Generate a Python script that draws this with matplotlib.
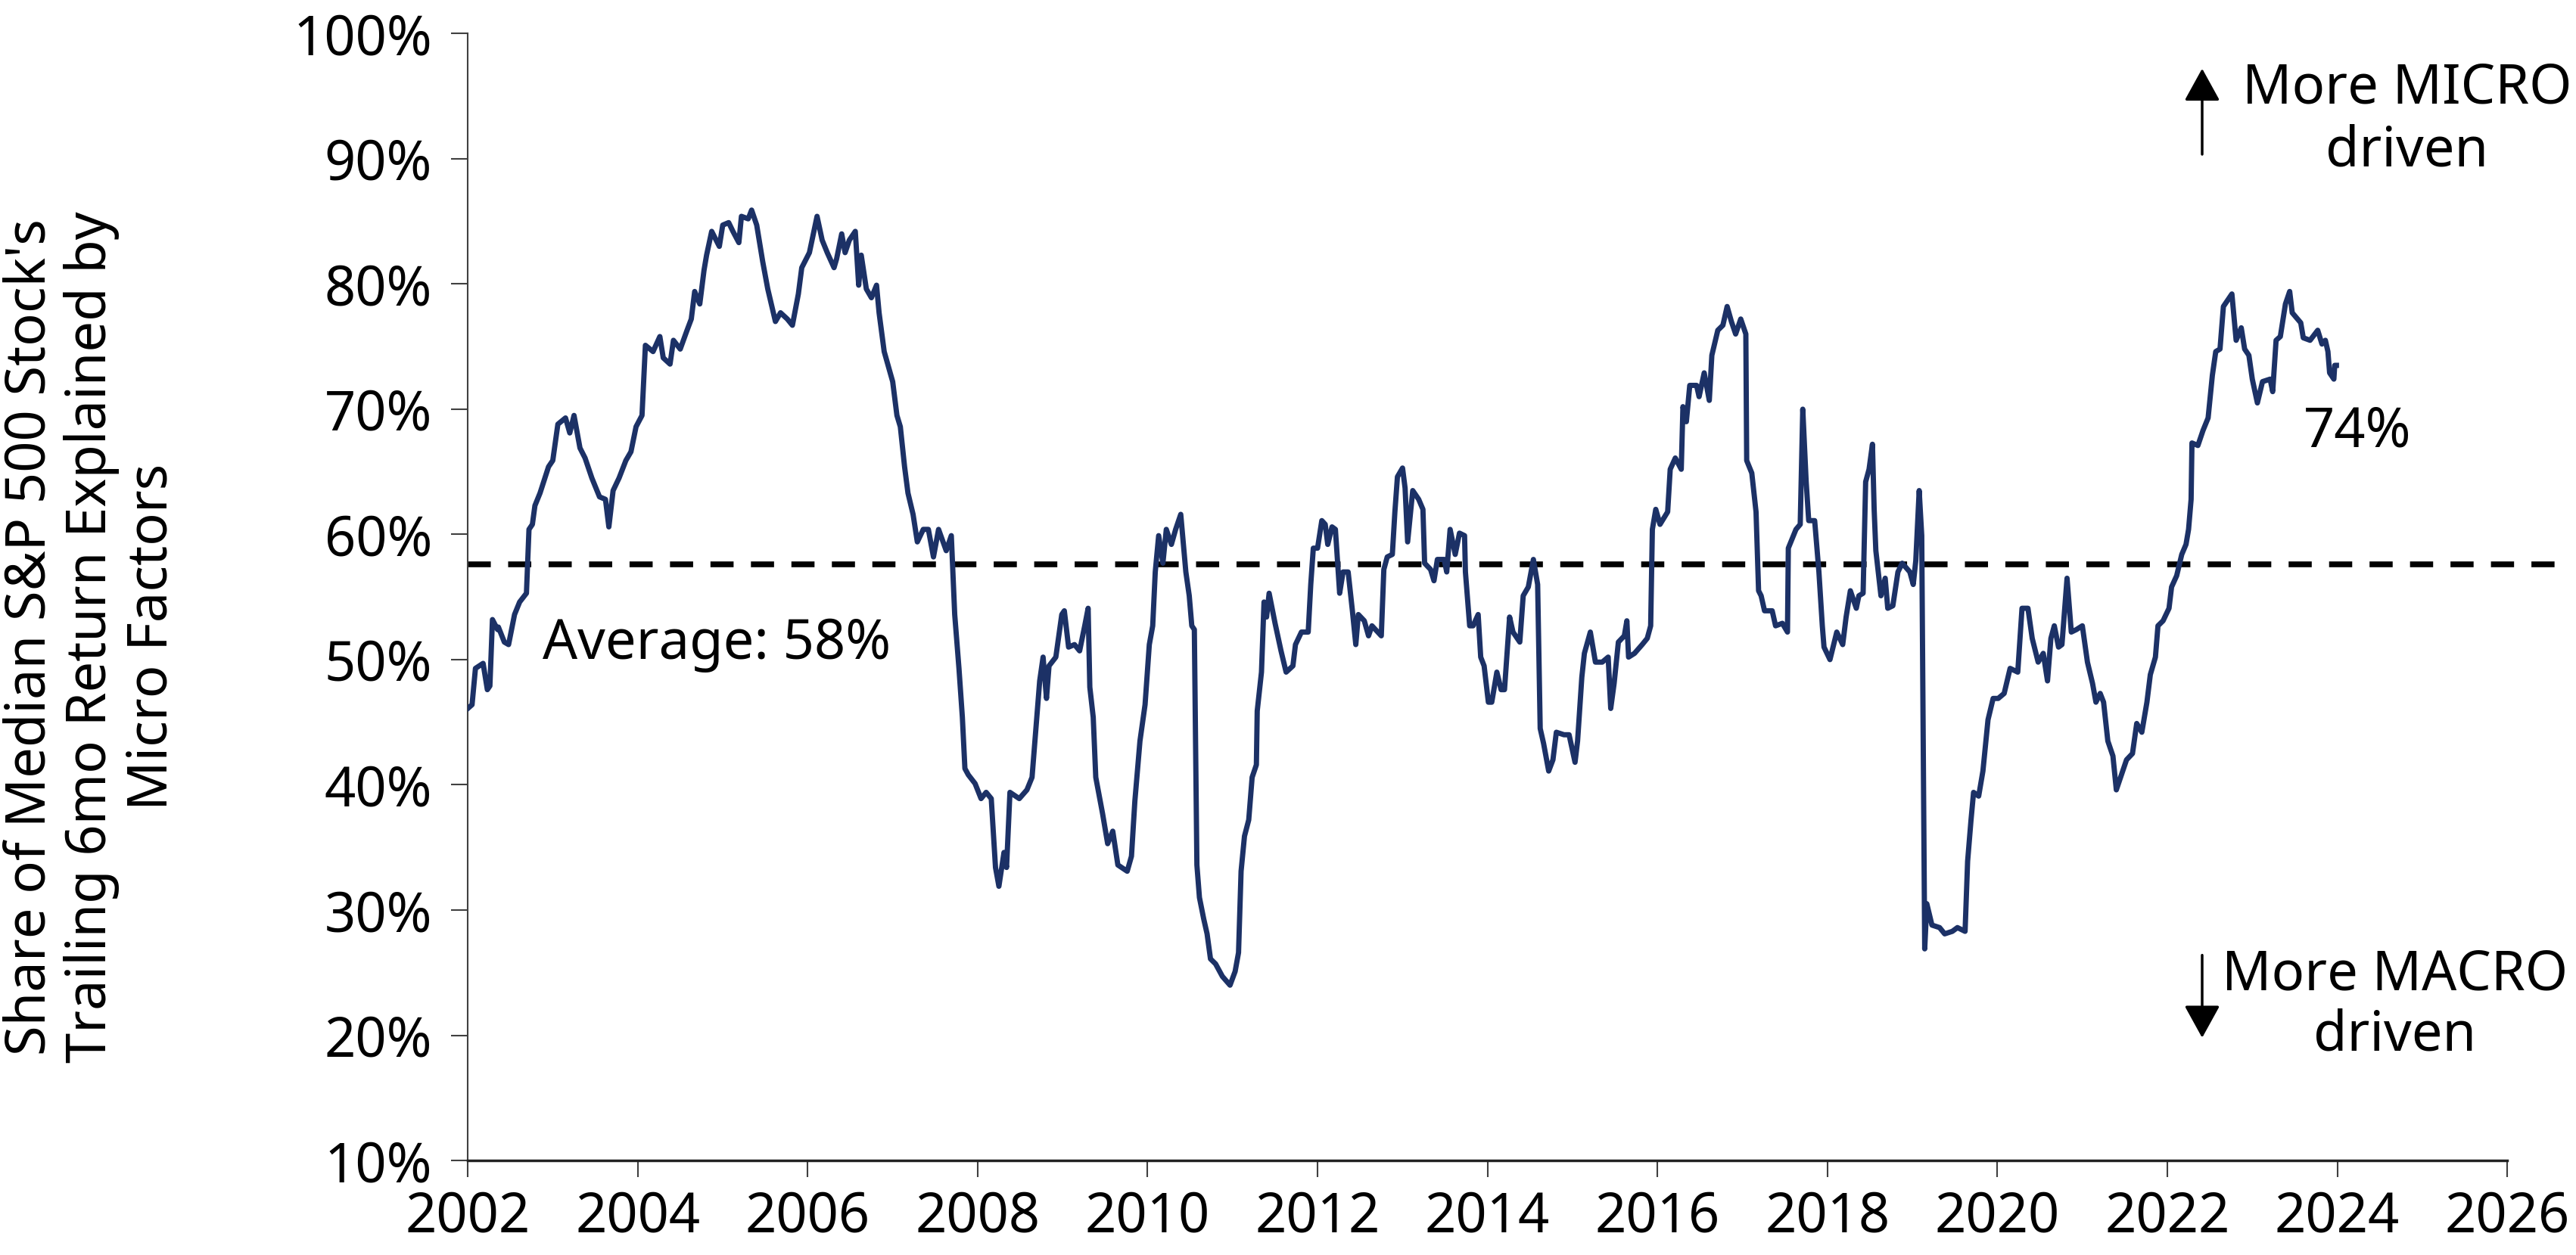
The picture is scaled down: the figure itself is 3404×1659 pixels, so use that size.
import numpy as np
import matplotlib
matplotlib.use("Agg")
import matplotlib.pyplot as plt
from matplotlib.ticker import FuncFormatter, MultipleLocator

# share of median S&P 500 stock's trailing 6mo return explained by micro factors (%)
years = [
    2002.00, 2002.05, 2002.09, 2002.18, 2002.23, 2002.26, 2002.29, 2002.35, 2002.36, 2002.43,
    2002.48, 2002.55, 2002.61, 2002.69, 2002.72, 2002.76, 2002.79, 2002.85, 2002.95, 2003.00,
    2003.06, 2003.15, 2003.20, 2003.25, 2003.32, 2003.38, 2003.46, 2003.55, 2003.62, 2003.66,
    2003.71, 2003.78, 2003.86, 2003.92, 2003.98, 2004.05, 2004.09, 2004.18, 2004.26, 2004.30,
    2004.38, 2004.42, 2004.50, 2004.58, 2004.63, 2004.67, 2004.73, 2004.78, 2004.81, 2004.87,
    2004.96, 2005.00, 2005.07, 2005.12, 2005.19, 2005.22, 2005.30, 2005.34, 2005.40, 2005.47,
    2005.53, 2005.62, 2005.68, 2005.76, 2005.82, 2005.89, 2005.93, 2006.02, 2006.11, 2006.17,
    2006.23, 2006.31, 2006.34, 2006.40, 2006.44, 2006.49, 2006.56, 2006.60, 2006.63, 2006.69,
    2006.75, 2006.81, 2006.84, 2006.90, 2006.95, 2007.00, 2007.05, 2007.09, 2007.14, 2007.18,
    2007.24, 2007.29, 2007.36, 2007.42, 2007.48, 2007.54, 2007.63, 2007.69, 2007.73, 2007.78,
    2007.82, 2007.85, 2007.89, 2007.97, 2008.04, 2008.10, 2008.16, 2008.21, 2008.25, 2008.31,
    2008.34, 2008.38, 2008.49, 2008.58, 2008.64, 2008.68, 2008.73, 2008.77, 2008.81, 2008.84,
    2008.92, 2008.99, 2009.02, 2009.07, 2009.14, 2009.20, 2009.26, 2009.30, 2009.32, 2009.36,
    2009.39, 2009.47, 2009.53, 2009.59, 2009.65, 2009.76, 2009.81, 2009.85, 2009.91, 2009.97,
    2010.02, 2010.06, 2010.09, 2010.13, 2010.18, 2010.22, 2010.28, 2010.33, 2010.39, 2010.45,
    2010.49, 2010.52, 2010.55, 2010.58, 2010.61, 2010.66, 2010.70, 2010.74, 2010.80, 2010.88,
    2010.97, 2011.03, 2011.07, 2011.10, 2011.14, 2011.19, 2011.23, 2011.28, 2011.29, 2011.34,
    2011.37, 2011.40, 2011.43, 2011.50, 2011.57, 2011.63, 2011.71, 2011.74, 2011.81, 2011.89,
    2011.92, 2011.95, 2012.00, 2012.05, 2012.09, 2012.12, 2012.17, 2012.21, 2012.26, 2012.30,
    2012.36, 2012.41, 2012.45, 2012.48, 2012.55, 2012.60, 2012.64, 2012.75, 2012.78, 2012.82,
    2012.88, 2012.91, 2012.94, 2013.00, 2013.03, 2013.06, 2013.12, 2013.19, 2013.24, 2013.26,
    2013.33, 2013.37, 2013.41, 2013.49, 2013.52, 2013.56, 2013.62, 2013.67, 2013.73, 2013.74,
    2013.79, 2013.83, 2013.89, 2013.92, 2013.96, 2014.01, 2014.05, 2014.11, 2014.16, 2014.20,
    2014.26, 2014.30, 2014.38, 2014.42, 2014.48, 2014.54, 2014.59, 2014.62, 2014.66, 2014.72,
    2014.77, 2014.81, 2014.90, 2014.96, 2015.03, 2015.06, 2015.11, 2015.14, 2015.21, 2015.27,
    2015.35, 2015.42, 2015.45, 2015.49, 2015.54, 2015.61, 2015.64, 2015.66, 2015.73, 2015.82,
    2015.88, 2015.92, 2015.94, 2015.98, 2016.03, 2016.12, 2016.15, 2016.21, 2016.28, 2016.30,
    2016.34, 2016.38, 2016.46, 2016.49, 2016.55, 2016.61, 2016.64, 2016.71, 2016.77, 2016.82,
    2016.87, 2016.92, 2016.98, 2017.04, 2017.05, 2017.11, 2017.16, 2017.19, 2017.22, 2017.26,
    2017.35, 2017.39, 2017.47, 2017.53, 2017.54, 2017.60, 2017.63, 2017.68, 2017.71, 2017.75,
    2017.78, 2017.85, 2017.90, 2017.94, 2017.96, 2018.03, 2018.11, 2018.18, 2018.22, 2018.27,
    2018.34, 2018.37, 2018.42, 2018.45, 2018.49, 2018.53, 2018.55, 2018.57, 2018.63, 2018.68,
    2018.71, 2018.77, 2018.83, 2018.88, 2018.97, 2019.01, 2019.04, 2019.08, 2019.11, 2019.145,
    2019.17, 2019.23, 2019.32, 2019.38, 2019.47, 2019.53, 2019.62, 2019.65, 2019.69, 2019.72,
    2019.78, 2019.83, 2019.89, 2019.95, 2020.01, 2020.08, 2020.15, 2020.24, 2020.29, 2020.36,
    2020.41, 2020.48, 2020.54, 2020.59, 2020.63, 2020.67, 2020.72, 2020.76, 2020.82, 2020.87,
    2020.93, 2021.00, 2021.06, 2021.12, 2021.16, 2021.21, 2021.25, 2021.30, 2021.36, 2021.40,
    2021.46, 2021.52, 2021.59, 2021.64, 2021.70, 2021.76, 2021.80, 2021.86, 2021.89, 2021.95,
    2022.02, 2022.05, 2022.11, 2022.17, 2022.22, 2022.25, 2022.28, 2022.29, 2022.36, 2022.42,
    2022.48, 2022.53, 2022.57, 2022.62, 2022.66, 2022.71, 2022.76, 2022.81, 2022.87, 2022.91,
    2022.96, 2023.00, 2023.06, 2023.12, 2023.21, 2023.24, 2023.28, 2023.33, 2023.39, 2023.44,
    2023.47, 2023.57, 2023.60, 2023.68, 2023.77, 2023.82, 2023.86, 2023.89, 2023.91, 2023.96,
    2023.97, 2023.99,
]
micro_share = [
    46.1, 46.4, 49.3, 49.7, 47.6, 47.9, 53.2, 52.4, 52.6, 51.4,
    51.2, 53.6, 54.6, 55.3, 60.4, 60.8, 62.3, 63.3, 65.4, 65.9,
    68.8, 69.3, 68.1, 69.5, 66.9, 66.1, 64.5, 63.0, 62.8, 60.6,
    63.5, 64.5, 65.9, 66.6, 68.6, 69.5, 75.1, 74.6, 75.8, 74.1,
    73.6, 75.5, 74.8, 76.3, 77.2, 79.4, 78.4, 81.1, 82.3, 84.2,
    83.0, 84.7, 84.9, 84.2, 83.3, 85.4, 85.2, 85.9, 84.7, 81.8,
    79.6, 77.0, 77.7, 77.2, 76.7, 79.2, 81.3, 82.5, 85.4, 83.5,
    82.5, 81.3, 82.0, 84.0, 82.5, 83.5, 84.2, 79.9, 82.3, 79.6,
    78.9, 79.9, 77.7, 74.6, 73.4, 72.2, 69.5, 68.6, 65.4, 63.3,
    61.6, 59.4, 60.4, 60.4, 58.2, 60.4, 58.7, 59.9, 53.6, 49.3,
    45.4, 41.3, 40.8, 40.1, 38.9, 39.4, 38.9, 33.4, 31.9, 34.6,
    33.4, 39.4, 38.9, 39.6, 40.6, 44.0, 48.3, 50.2, 46.9, 49.5,
    50.2, 53.6, 53.9, 51.0, 51.2, 50.7, 52.7, 54.1, 47.8, 45.4,
    40.6, 37.7, 35.3, 36.3, 33.6, 33.1, 34.3, 38.7, 43.5, 46.4,
    51.2, 52.7, 57.0, 59.9, 57.7, 60.4, 59.2, 60.4, 61.6, 57.0,
    55.1, 52.7, 52.4, 33.6, 31.0, 29.3, 28.1, 26.1, 25.7, 24.7,
    24.0, 25.1, 26.6, 33.1, 35.9, 37.2, 40.6, 41.6, 45.9, 49.0,
    54.6, 53.4, 55.3, 52.9, 50.7, 49.0, 49.5, 51.2, 52.2, 52.2,
    56.0, 58.9, 58.9, 61.1, 60.8, 59.2, 60.6, 60.4, 55.3, 57.0,
    57.0, 53.9, 51.2, 53.6, 53.1, 51.9, 52.7, 51.9, 57.2, 58.2,
    58.4, 61.8, 64.6, 65.3, 63.7, 59.4, 63.5, 62.8, 62.0, 57.7,
    57.2, 56.3, 58.0, 58.0, 57.0, 60.4, 58.4, 60.1, 59.9, 57.0,
    52.7, 52.7, 53.6, 50.2, 49.5, 46.6, 46.6, 49.0, 47.6, 47.6,
    53.4, 52.2, 51.4, 55.1, 55.8, 58.0, 56.0, 44.5, 43.3, 41.1,
    42.0, 44.2, 44.0, 44.0, 41.8, 43.5, 48.6, 50.5, 52.2, 49.8,
    49.8, 50.2, 46.1, 48.1, 51.4, 51.9, 53.1, 50.2, 50.5, 51.2,
    51.7, 52.7, 60.4, 62.0, 60.8, 61.8, 65.2, 66.1, 65.2, 70.2,
    69.0, 71.9, 71.9, 71.0, 72.9, 70.7, 74.3, 76.3, 76.7, 78.2,
    77.0, 76.0, 77.2, 76.0, 65.9, 64.9, 61.8, 55.5, 55.1, 53.9,
    53.9, 52.7, 52.9, 52.2, 58.9, 59.9, 60.4, 60.8, 70.0, 64.2,
    61.1, 61.1, 57.0, 52.7, 51.0, 50.0, 52.2, 51.2, 53.4, 55.5,
    54.1, 55.1, 55.3, 64.2, 65.2, 67.2, 62.0, 58.7, 55.1, 56.5,
    54.1, 54.3, 57.0, 57.7, 57.0, 56.0, 57.9, 63.5, 59.9, 26.9,
    30.5, 28.8, 28.6, 28.1, 28.3, 28.6, 28.3, 33.9, 37.2, 39.4,
    39.1, 41.1, 45.2, 46.9, 46.9, 47.3, 49.3, 49.0, 54.1, 54.1,
    51.7, 49.8, 50.5, 48.3, 51.7, 52.7, 51.0, 51.2, 56.5, 52.2,
    52.4, 52.7, 49.8, 48.1, 46.6, 47.3, 46.6, 43.5, 42.3, 39.6,
    40.8, 42.0, 42.5, 44.9, 44.2, 46.6, 48.8, 50.2, 52.7, 53.1,
    54.1, 55.8, 56.7, 58.4, 59.2, 60.4, 62.8, 67.3, 67.1, 68.3,
    69.3, 72.7, 74.6, 74.8, 78.2, 78.7, 79.2, 75.5, 76.5, 74.8,
    74.3, 72.4, 70.5, 72.2, 72.4, 71.4, 75.5, 75.8, 78.4, 79.4,
    77.7, 76.9, 75.7, 75.5, 76.3, 75.2, 75.5, 74.6, 72.9, 72.4,
    73.5, 73.5,
]
average = 57.6
latest_label = "74%"
ylabel = "Share of Median S&P 500 Stock's\nTrailing 6mo Return Explained by\nMicro Factors"

NAVY = "#1c3166"
INK = "#000000"
AXC = "#404040"
FS = 52

plt.rcParams["font.family"] = ["Noto Sans", "DejaVu Sans"]
plt.rcParams["lines.scale_dashes"] = False

fig = plt.figure(figsize=(34.04, 16.59), dpi=100)
ax = fig.add_axes([0.1816, 0.0753, 0.7917, 0.8980])

ax.plot(years, micro_share, color=NAVY, lw=5.0, solid_joinstyle="round", zorder=3)

# average line runs a little past the right end of the axis
ax.plot([2002, 2026.75], [average, average], color=INK, lw=5.5,
        dashes=(22, 16.5), clip_on=False, zorder=2)

ax.set_xlim(2002, 2026)
ax.set_ylim(10, 100)
ax.xaxis.set_major_locator(MultipleLocator(2))
ax.yaxis.set_major_locator(MultipleLocator(10))
ax.yaxis.set_major_formatter(FuncFormatter(lambda v, _: f"{v:.0f}%"))

for s in ["top", "right"]:
    ax.spines[s].set_visible(False)
ax.spines["left"].set_color(AXC); ax.spines["left"].set_linewidth(1.5)
ax.spines["bottom"].set_color("#222222"); ax.spines["bottom"].set_linewidth(2.5)
ax.tick_params(axis="both", direction="out", length=16, width=1.5, color=AXC)
ax.tick_params(axis="y", labelsize=FS, pad=18)
ax.tick_params(axis="x", labelsize=FS, pad=12)

fig.text(0.0356, 1 - 842 / 1659, ylabel, rotation=90, ha="center", va="center",
         multialignment="center", fontsize=FS, linespacing=1.12)

ax.text(2002.88, 50.05, f"Average: {average:.0f}%", fontsize=FS, ha="left", va="baseline")
ax.text(2024.24, 67.0, latest_label, fontsize=FS, ha="center", va="baseline")

ax.text(2024.82, 94.4, "More MICRO", fontsize=FS, ha="center", va="baseline")
ax.text(2024.82, 89.4, "driven", fontsize=FS, ha="center", va="baseline")
ax.text(2024.68, 23.6, "More MACRO", fontsize=FS, ha="center", va="baseline")
ax.text(2024.68, 18.8, "driven", fontsize=FS, ha="center", va="baseline")

arrow = dict(arrowstyle="-|>,head_length=0.89,head_width=0.49", color=INK, lw=2.5,
             mutation_scale=30, shrinkA=0, shrinkB=0)
ax.annotate("", xy=(2022.41, 97.2), xytext=(2022.41, 90.35), arrowprops=arrow,
            annotation_clip=False)
ax.annotate("", xy=(2022.41, 19.8), xytext=(2022.41, 26.4), arrowprops=arrow,
            annotation_clip=False)

fig.savefig("out.png", dpi=100, facecolor="white")
